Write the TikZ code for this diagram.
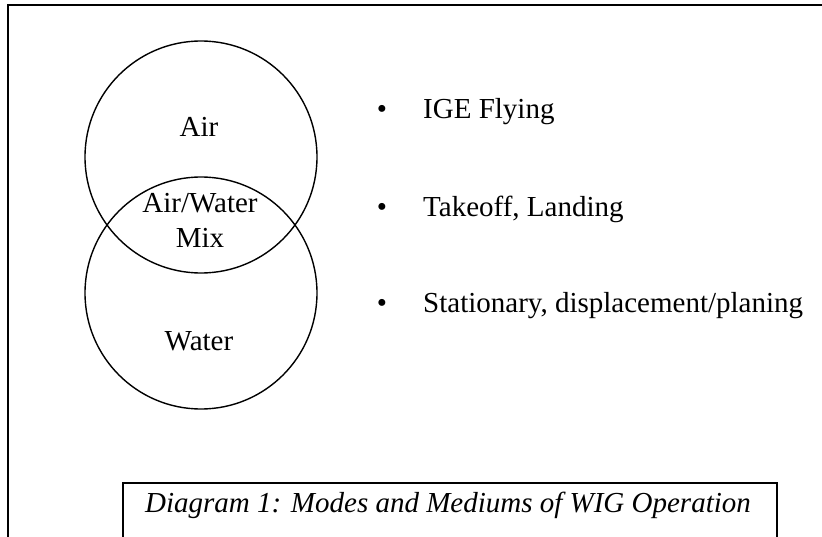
\documentclass[tikz,border=0pt]{standalone}
\usepackage{fontspec}
\setmainfont{Liberation Serif}
\begin{document}
\begin{tikzpicture}[x=1pt, y=-1pt,
  every node/.style={font=\fontsize{29}{35}\selectfont, inner sep=0pt},
  rule/.style={line width=1.5pt, black},
  medium/.style={circle, draw, line width=1.4pt, minimum size=232pt},
  word/.style={anchor=base},
  item/.style={anchor=base west},
  dot/.style={anchor=base}]
\useasboundingbox (0,0) rectangle (822,537);
\clip (0,0) rectangle (822,537);

% outer frame (open to the right and bottom)
\coordinate (fbl) at (8,560);
\coordinate (ftl) at (8,5);
\coordinate (ftr) at (840,5);
\draw[rule] (fbl) -- (ftl) -- (ftr);

% the two mediums
\node[medium] (air) at (201,157) {};
\node[medium] (water) at (201,293) {};
\node[word] (airlbl) at (199,137) {Air};
\node[word] (mixa) at (200,213) {Air/Water};
\node[word] (mixb) at (200,248) {Mix};
\node[word] (waterlbl) at (199,350) {Water};

% modes of operation
\node[dot] (d1) at (382,119) {•};
\node[item] (m1) at (423,119) {IGE Flying};
\node[dot] (d2) at (382,217) {•};
\node[item] (m2) at (423,217) {Takeoff, Landing};
\node[dot] (d3) at (382,313) {•};
\node[item] (m3) at (423,313) {Stationary, displacement/planing};

% caption box
\coordinate (cbl) at (123,560);
\coordinate (ctl) at (123,483);
\coordinate (ctr) at (777,483);
\coordinate (cbr) at (777,560);
\draw[rule] (cbl) -- (ctl) -- (ctr) -- (cbr);
\node[item, font=\fontsize{29}{35}\selectfont\itshape] (cap) at (145,512)
  {Diagram 1: Modes and Mediums of WIG Operation};
\end{tikzpicture}
\end{document}
